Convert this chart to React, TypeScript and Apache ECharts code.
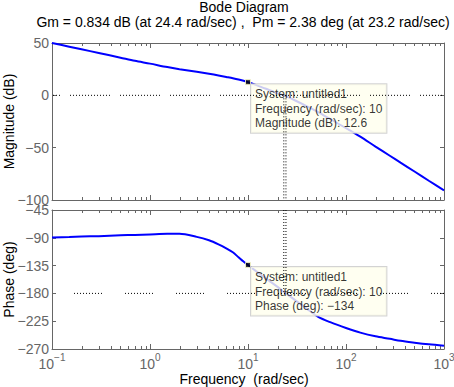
import React, { useEffect, useRef } from 'react';
import * as echarts from 'echarts';

// ---- data ----
const FREQ = [0.1, 0.15, 0.2, 0.3, 0.5, 0.7, 1, 1.5, 2, 3, 4, 5, 6, 7, 8, 9, 10, 12, 15, 20, 23.2, 24.4, 30, 40, 52, 70, 100, 140, 200, 280, 360, 500, 700, 1000];
const MAG_DB = [50, 46.5, 44, 40.5, 36, 33, 30.3, 27, 25, 22.5, 20.6, 19, 17.6, 16.4, 15.2, 13.9, 12.6, 10, 6.5, 2, 0, -0.8, -4.7, -10.5, -16, -23, -31.3, -39.5, -49, -57.7, -64.3, -72.8, -81.6, -90.8];
const PHASE_DEG = [-89.5, -88.8, -88, -87.3, -86, -85.3, -84.5, -83.6, -83.5, -88.5, -94, -100.5, -107, -113.5, -121.5, -128.5, -134, -143.6, -155, -169.5, -177.6, -180, -190.5, -205, -218, -227, -236, -243.5, -249.5, -253.5, -256.8, -259.8, -262.5, -264.8];

const X_MIN = 0.1;
const X_MAX = 1000;
const MAG_MIN = -100;
const MAG_MAX = 50;
const MAG_STEP = 50;
const PH_MIN = -270;
const PH_MAX = -45;
const PH_STEP = 45;

const GM_DB = 0.834;
const GM_FREQ = 24.4;
const PM_DEG = 2.38;
const PM_FREQ = 23.2;
const MAG_REF = 0;
const PH_REF = -180;

const TIP_SYSTEM = 'untitled1';
const TIP_FREQ = 10;
const TIP_MAG = 12.6;
const TIP_PHASE = -134;

const MINOR_DECADES = [0.1, 1, 10, 100];
const MINOR_MULTS = [2, 3, 4, 5, 6, 7, 8, 9];

const TITLE = 'Bode Diagram';
const SUBTITLE = `Gm = ${GM_DB} dB (at ${GM_FREQ} rad/sec) ,  Pm = ${PM_DEG} deg (at ${PM_FREQ} rad/sec)`;
const MAG_NAME = 'Magnitude (dB)';
const PHASE_NAME = 'Phase (deg)';
const FREQ_NAME = 'Frequency  (rad/sec)';

const FONT = "'Liberation Sans', Arial, Helvetica, sans-serif";
const AX = '#666666';
const minus = (v: number | string) => String(v).replace('-', '\u2212');

function dotGroups(dots: number, gap: number): number[] {
  const arr: number[] = [];
  for (let i = 0; i < dots; i++) {
    arr.push(1, i === dots - 1 ? 2 + gap : 2);
  }
  return arr;
}

export default function App() {
  const ref = useRef<HTMLDivElement>(null);

  useEffect(() => {
    if (!ref.current) return;
    const chart = echarts.init(ref.current, null, { renderer: 'svg' });

    const minorTicks: number[][] = [];
    MINOR_DECADES.forEach((d) => MINOR_MULTS.forEach((m) => minorTicks.push([+(d * m).toPrecision(3)])));

    const xAxisCfg = (gridIndex: number, position: string, showLabel: boolean, name?: string) => ({
      type: 'log',
      logBase: 10,
      min: X_MIN,
      max: X_MAX,
      gridIndex,
      position,
      name: name || '',
      nameLocation: 'middle',
      nameGap: 23,
      nameTextStyle: { color: '#000', fontSize: 14, fontFamily: FONT, padding: [0, 8, 0, 0] },
      axisLine: { show: true, onZero: false, lineStyle: { color: AX, width: 1 } },
      axisTick: { show: true, inside: true, length: 5, lineStyle: { color: AX, width: 1 } },
      axisLabel: {
        show: showLabel,
        margin: 3,
        formatter: (v: number) => `{b|10}{s|${minus(Math.round(Math.log10(v)))}}`,
        rich: {
          b: { fontSize: 14, color: AX, fontFamily: FONT },
          s: { fontSize: 10, color: AX, fontFamily: FONT, padding: [0, 0, 13, 0] },
        },
      },
      splitLine: { show: false },
    });

    const yAxisCfg = (gridIndex: number, position: string, min: number, max: number, step: number, showLabel: boolean) => ({
      type: 'value',
      gridIndex,
      position,
      min,
      max,
      interval: step,
      axisLine: { show: true, onZero: false, lineStyle: { color: AX, width: 1 } },
      axisTick: { show: true, inside: true, length: 4, lineStyle: { color: AX, width: 1 } },
      axisLabel: { show: showLabel, margin: 3, color: AX, fontSize: 14, fontFamily: FONT, formatter: (v: number) => minus(v) },
      splitLine: { show: false },
    });

    const minorSeries = (xi: number, yi: number, yVal: number) => ({
      type: 'custom',
      xAxisIndex: xi,
      yAxisIndex: yi,
      silent: true,
      z: 1,
      clip: false,
      data: minorTicks.map((t) => [t[0], yVal]),
      renderItem: (params: any, api: any) => {
        const x = Math.round(api.coord([api.value(0), yVal])[0]) + 0.5;
        const cs = params.coordSys;
        const st = { stroke: AX, lineWidth: 1 };
        return {
          type: 'group',
          children: [
            { type: 'line', shape: { x1: x, y1: cs.y + cs.height, x2: x, y2: cs.y + cs.height - 3 }, style: st },
            { type: 'line', shape: { x1: x, y1: cs.y, x2: x, y2: cs.y + 3 }, style: st },
          ],
        };
      },
    });

    const refLine = (xi: number, yi: number, data: number[][], type: any, dashOffset = 0) => ({
      type: 'line',
      xAxisIndex: xi,
      yAxisIndex: yi,
      data,
      silent: true,
      showSymbol: false,
      symbol: 'none',
      z: 6,
      lineStyle: { color: '#000', width: 1, type, dashOffset },
    });

    const tipLabel = (text: string) => ({
      show: true,
      position: [6, 5],
      align: 'left',
      verticalAlign: 'top',
      formatter: () => text,
      backgroundColor: '#ffffee',
      borderColor: '#c8c8c8',
      borderWidth: 1,
      padding: [3, 4, 2, 4],
      fontSize: 12,
      lineHeight: 14.5,
      color: '#000',
      fontFamily: FONT,
    });

    const textEl = (text: string, x: number, y: number, rotation = 0) => ({
      type: 'text',
      x,
      y,
      rotation,
      style: { text, fill: '#000', font: `14px ${FONT}`, lineHeight: 14, align: 'center', verticalAlign: 'middle' },
    });

    const option: any = {
      animation: false,
      backgroundColor: '#ffffff',
      textStyle: { fontFamily: FONT },
      graphic: [
        textEl(TITLE, 244, 7),
        textEl(SUBTITLE, 243, 21.5),
        textEl(MAG_NAME, 9, 121.5, Math.PI / 2),
        textEl(PHASE_NAME, 9, 279.5, Math.PI / 2),
      ],
      grid: [
        { left: 52, top: 43, width: 392, height: 157, outerBoundsMode: 'none', containLabel: false },
        { left: 52, top: 210, width: 392, height: 139, outerBoundsMode: 'none', containLabel: false },
      ],
      xAxis: [
        xAxisCfg(0, 'bottom', false),
        xAxisCfg(0, 'top', false),
        xAxisCfg(1, 'bottom', true, FREQ_NAME),
        xAxisCfg(1, 'top', false),
      ],
      yAxis: [
        yAxisCfg(0, 'left', MAG_MIN, MAG_MAX, MAG_STEP, true),
        yAxisCfg(0, 'right', MAG_MIN, MAG_MAX, MAG_STEP, false),
        yAxisCfg(1, 'left', PH_MIN, PH_MAX, PH_STEP, true),
        yAxisCfg(1, 'right', PH_MIN, PH_MAX, PH_STEP, false),
      ],
      series: [
        minorSeries(0, 0, 0),
        minorSeries(2, 2, -90),
        {
          type: 'line',
          xAxisIndex: 0,
          yAxisIndex: 0,
          data: FREQ.map((f, i) => [f, MAG_DB[i]]),
          showSymbol: false,
          symbol: 'none',
          smooth: 0.3,
          silent: true,
          z: 2,
          lineStyle: { color: '#0000ff', width: 2 },
        },
        {
          type: 'line',
          xAxisIndex: 2,
          yAxisIndex: 2,
          data: FREQ.map((f, i) => [f, PHASE_DEG[i]]),
          showSymbol: false,
          symbol: 'none',
          smooth: 0.3,
          silent: true,
          z: 2,
          lineStyle: { color: '#0000ff', width: 2 },
        },
        {
          type: 'scatter',
          xAxisIndex: 0,
          yAxisIndex: 0,
          data: [[TIP_FREQ, TIP_MAG]],
          symbol: 'rect',
          symbolSize: 5,
          silent: true,
          z: 4,
          itemStyle: { color: '#000', borderColor: '#ffffcc', borderWidth: 1 },
          label: tipLabel(`System: ${TIP_SYSTEM}\nFrequency (rad/sec): ${TIP_FREQ}\nMagnitude (dB): ${TIP_MAG}`),
        },
        {
          type: 'scatter',
          xAxisIndex: 2,
          yAxisIndex: 2,
          data: [[TIP_FREQ, TIP_PHASE]],
          symbol: 'rect',
          symbolSize: 5,
          silent: true,
          z: 4,
          itemStyle: { color: '#000', borderColor: '#ffffcc', borderWidth: 1 },
          label: tipLabel(`System: ${TIP_SYSTEM}\nFrequency (rad/sec): ${TIP_FREQ}\nPhase (deg): ${minus(TIP_PHASE)}`),
        },
        refLine(0, 0, [[X_MIN, MAG_REF], [X_MAX, MAG_REF]], dotGroups(14, 8), 32),
        refLine(2, 2, [[X_MIN, PH_REF], [X_MAX, PH_REF]], dotGroups(10, 21), 29),
        refLine(0, 0, [[PM_FREQ, MAG_REF], [PM_FREQ, MAG_MIN]], [1, 2]),
        refLine(0, 0, [[GM_FREQ, MAG_REF], [GM_FREQ, MAG_MIN]], [1, 2]),
        refLine(2, 2, [[PM_FREQ, PH_MAX], [PM_FREQ, PH_REF]], [1, 2]),
        refLine(2, 2, [[GM_FREQ, PH_MAX], [GM_FREQ, PH_REF]], [1, 2]),
      ],
    };

    chart.setOption(option);
    return () => chart.dispose();
  }, []);

  return <div ref={ref} style={{ position: 'fixed', left: 0, top: 0, width: 454, height: 387, background: '#fff' }} />;
}
